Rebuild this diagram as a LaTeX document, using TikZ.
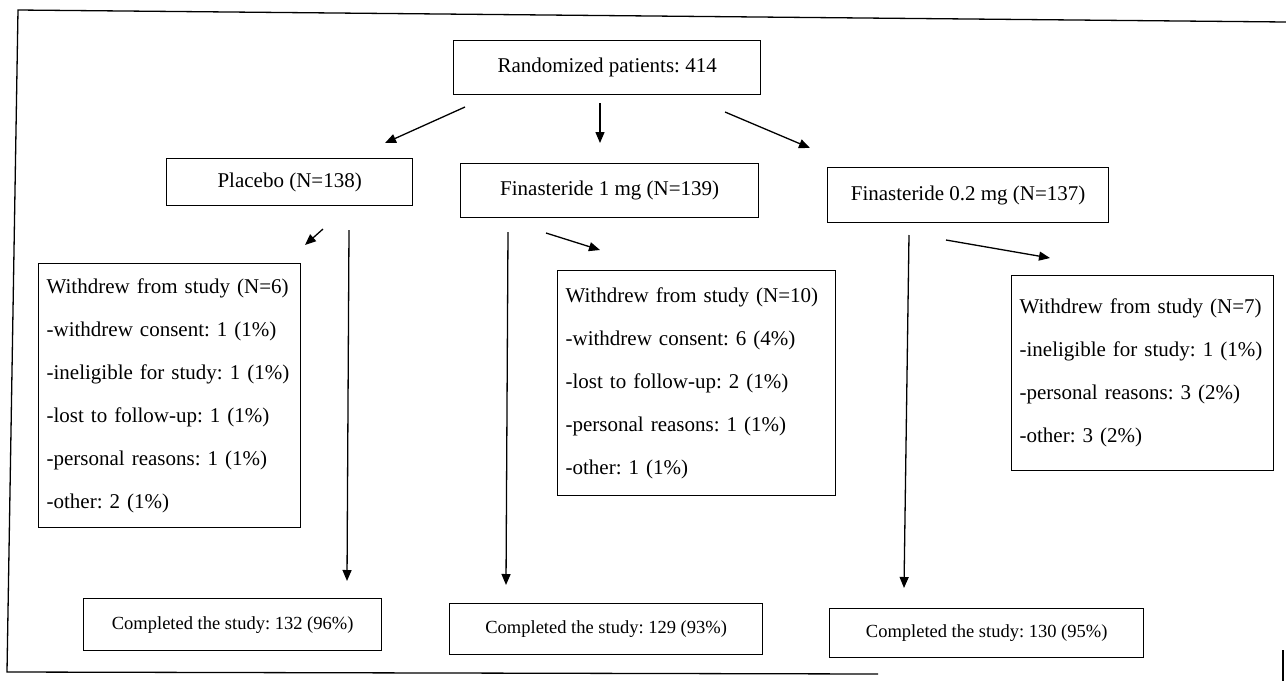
\documentclass[tikz,border=0pt]{standalone}
\usepackage{fontspec}
\setmainfont{Liberation Serif}
\usetikzlibrary{arrows.meta}
\frenchspacing
\begin{document}
\begin{tikzpicture}[x=1pt,y=-1pt,
  box/.style={draw, line width=1.3pt, inner sep=0pt, anchor=north west, font=\fontsize{21}{25}\selectfont},
  wbox/.style={draw, line width=1.3pt, anchor=north west, align=left, inner xsep=8pt, font=\fontsize{21}{43}\selectfont},
  cbox/.style={draw, line width=1.3pt, inner sep=0pt, anchor=north west, font=\fontsize{18.5}{22}\selectfont},
  arr/.style={line width=1.3pt, -{Triangle[length=11pt,width=9pt]}},
  frameline/.style={line width=1.3pt}]
\useasboundingbox (0,0) rectangle (1286,681);
\fill[white] (0,0) rectangle (1286,681);
% frame
\coordinate (ftl) at (18,10);
\coordinate (ftr) at (1286,22);
\coordinate (fbl) at (7,672);
\coordinate (fbr) at (878,674);
\coordinate (frt) at (1283,650);
\coordinate (frb) at (1283,681);
\draw[frameline] (ftr) -- (ftl) -- (fbl) -- (fbr);
\draw[frameline] (frt) -- (frb);
% level 1
\node[box, minimum width=307pt, minimum height=54pt] (rand) at (453,40) {Randomized patients: 414};
% level 2
\node[box, minimum width=246pt, minimum height=47pt] (plac) at (166,158) {Placebo (N=138)};
\node[box, minimum width=298pt, minimum height=54pt] (fin1) at (460,163) {Finasteride 1 mg (N=139)};
\node[box, minimum width=281pt, minimum height=55pt] (fin2) at (827,167) {Finasteride 0.2 mg (N=137)};
% withdrew
\node[wbox, text width=246pt, minimum height=264pt] (w1) at (38,263)
 {Withdrew from study (N=6)\\-withdrew consent: 1 (1\%)\\-ineligible for study: 1 (1\%)\\-lost to follow-up: 1 (1\%)\\-personal reasons: 1 (1\%)\\-other: 2 (1\%)};
\node[wbox, text width=262pt, minimum height=225pt] (w2) at (557,270)
 {Withdrew from study (N=10)\\-withdrew consent: 6 (4\%)\\-lost to follow-up: 2 (1\%)\\-personal reasons: 1 (1\%)\\-other: 1 (1\%)};
\node[wbox, text width=246pt, minimum height=195pt] (w3) at (1011,275)
 {Withdrew from study (N=7)\\-ineligible for study: 1 (1\%)\\-personal reasons: 3 (2\%)\\-other: 3 (2\%)};
% completed
\node[cbox, minimum width=298pt, minimum height=52pt] (c1) at (83,598) {Completed the study: 132 (96\%)};
\node[cbox, minimum width=313pt, minimum height=51pt] (c2) at (449,603) {Completed the study: 129 (93\%)};
\node[cbox, minimum width=314pt, minimum height=49pt] (c3) at (829,608) {Completed the study: 130 (95\%)};
% arrow end points
\coordinate (r1) at (465,107); \coordinate (p1) at (385,143);
\coordinate (r2) at (600,103); \coordinate (p2) at (600,143);
\coordinate (r3) at (725,112); \coordinate (p3) at (810,148);
\coordinate (pw) at (323,229); \coordinate (w1t) at (305,245);
\coordinate (pc) at (349,230); \coordinate (c1t) at (347,581);
\coordinate (fw) at (546,233); \coordinate (w2t) at (600,250);
\coordinate (fc) at (508,232); \coordinate (c2t) at (506,585);
\coordinate (gw) at (946,240); \coordinate (w3t) at (1050,258);
\coordinate (gc) at (909,235); \coordinate (c3t) at (904,588);
\draw[arr] (r1) -- (p1);
\draw[arr] (r2) -- (p2);
\draw[arr] (r3) -- (p3);
\draw[arr] (pw) -- (w1t);
\draw[arr] (pc) -- (c1t);
\draw[arr] (fw) -- (w2t);
\draw[arr] (fc) -- (c2t);
\draw[arr] (gw) -- (w3t);
\draw[arr] (gc) -- (c3t);
\end{tikzpicture}
\end{document}
